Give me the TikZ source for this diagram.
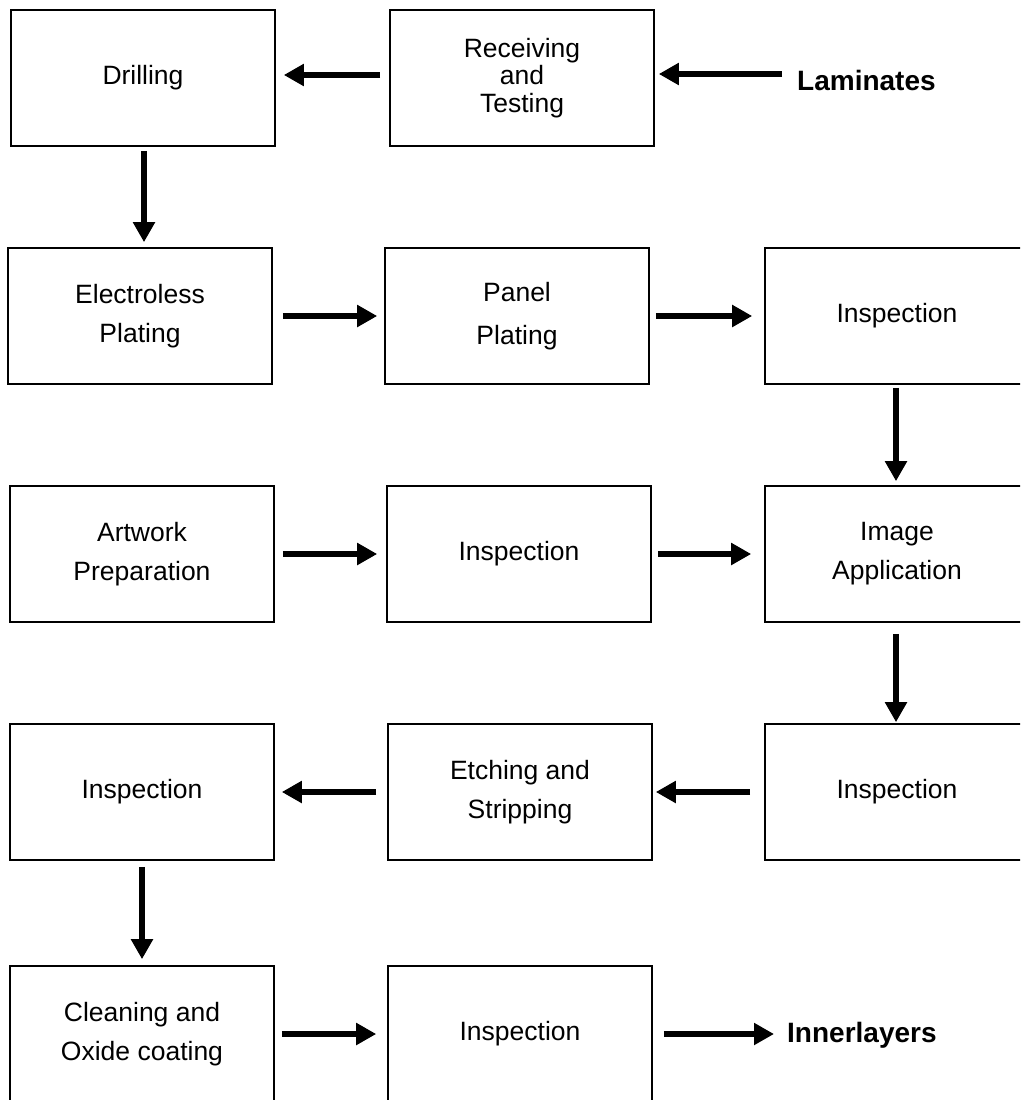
\documentclass[tikz,border=0pt]{standalone}
\usepackage{fontspec}
\setmainfont{Liberation Sans}
\usetikzlibrary{arrows.meta}

\begin{document}
\begin{tikzpicture}[x=1pt,y=-1pt,
  stepbox/.style={draw, line width=1.6pt, minimum width=264pt, minimum height=136pt,
    inner sep=0pt, align=center, font=\fontsize{26.5}{39}\selectfont},
  endlabel/.style={anchor=west, inner sep=0pt, font=\fontsize{28}{30}\selectfont\bfseries},
  flow/.style={-{Triangle[length=20pt,width=21pt]}, line width=6.5pt}]

\useasboundingbox (0,0) rectangle (1020,1100);
\clip (0,0) rectangle (1020,1100);

% process steps
\node[stepbox] (drill) at (143,78) {Drilling};
\node[stepbox, font=\fontsize{26.5}{27.5}\selectfont] (recv) at (522,78) {Receiving\\and\\Testing};
\node[endlabel] (lam) at (797,80) {Laminates};

\node[stepbox] (elec) at (140,316) {Electroless\\Plating};
\node[stepbox, font=\fontsize{26.5}{43}\selectfont] (panel) at (517,316) {Panel\\Plating};
\node[stepbox] (insp1) at (897,316) {Inspection};

\node[stepbox] (art) at (142,554) {Artwork\\Preparation};
\node[stepbox] (insp2) at (519,554) {Inspection};
\node[stepbox] (img) at (897,554) {Image\\Application};

\node[stepbox] (insp3) at (142,792) {Inspection};
\node[stepbox] (etch) at (520,792) {Etching and\\Stripping};
\node[stepbox] (insp4) at (897,792) {Inspection};

\node[stepbox] (clean) at (142,1034) {Cleaning and\\Oxide coating};
\node[stepbox] (insp5) at (520,1034) {Inspection};
\node[endlabel] (inner) at (787,1035) {Innerlayers};

% flow connectors
\draw[flow, shorten <=15pt, shorten >=4pt] ([yshift=4pt]lam.west |- recv.east) -- ([yshift=4pt]recv.east);
\draw[flow, shorten <=9pt, shorten >=8pt] ([yshift=3pt]recv.west) -- ([yshift=3pt]drill.east);
\draw[flow, shorten <=4pt, shorten >=5pt] ([xshift=1pt]drill.south) -- ([xshift=4pt]elec.north);

\draw[flow, shorten <=10pt, shorten >=7pt] (elec.east) -- (panel.west);
\draw[flow, shorten <=6pt, shorten >=12pt] (panel.east) -- (insp1.west);
\draw[flow, shorten <=3pt, shorten >=4pt] ([xshift=-1pt]insp1.south) -- ([xshift=-1pt]img.north);

\draw[flow, shorten <=8pt, shorten >=9pt] (art.east) -- (insp2.west);
\draw[flow, shorten <=6pt, shorten >=13pt] (insp2.east) -- (img.west);
\draw[flow, shorten <=11pt, shorten >=1pt] ([xshift=-1pt]img.south) -- ([xshift=-1pt]insp4.north);

\draw[flow, shorten <=14pt, shorten >=3pt] (insp4.west) -- (etch.east);
\draw[flow, shorten <=11pt, shorten >=7pt] (etch.west) -- (insp3.east);
\draw[flow, shorten <=6pt, shorten >=6pt] (insp3.south) -- (clean.north);

\draw[flow, shorten <=7pt, shorten >=11pt] (clean.east) -- (insp5.west);
\draw[flow, shorten <=11pt, shorten >=13pt] (insp5.east) -- (inner.west |- insp5.east);
\end{tikzpicture}
\end{document}
